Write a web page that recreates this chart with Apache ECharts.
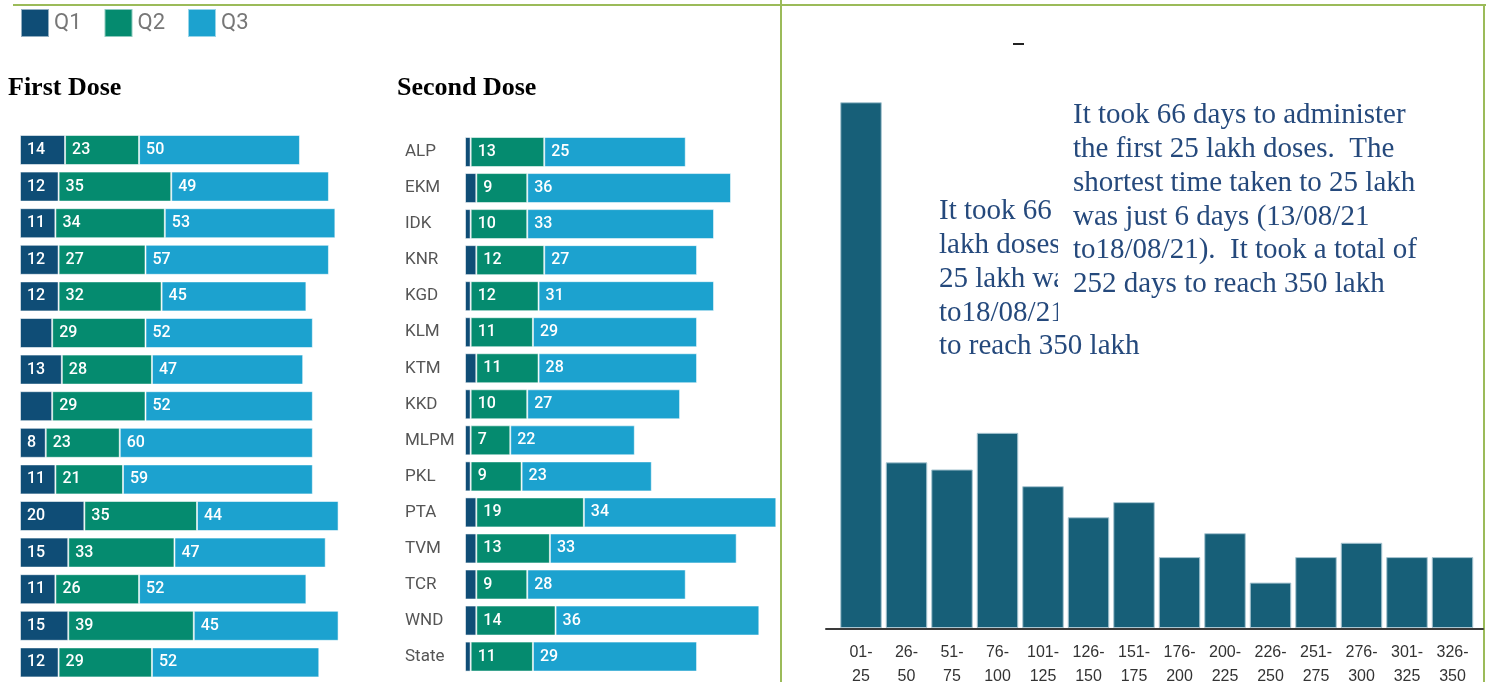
<!DOCTYPE html>
<html>
<head>
<meta charset="utf-8">
<title>Vaccination doses</title>
<script src="https://cdn.jsdelivr.net/npm/echarts@6/dist/echarts.min.js"></script>
<style>
  html, body { margin: 0; padding: 0; background: #fff; }
  #chart { width: 1486px; height: 682px; }
</style>
</head>
<body>
<div id="chart"></div>
<script>
// district order (top to bottom)
const districts = ["ALP", "EKM", "IDK", "KNR", "KGD", "KLM", "KTM", "KKD", "MLPM", "PKL", "PTA", "TVM", "TCR", "WND", "State"];

// First dose, % per quarter
const firstQ1 = [14, 12, 11, 12, 12, 10, 13, 10, 8, 11, 20, 15, 11, 15, 12];
const firstQ2 = [23, 35, 34, 27, 32, 29, 28, 29, 23, 21, 35, 33, 26, 39, 29];
const firstQ3 = [50, 49, 53, 57, 45, 52, 47, 52, 60, 59, 44, 47, 52, 45, 52];
const firstQ1Hidden = [5, 7]; // rows where the Q1 number is not printed

// Second dose, % per quarter
const secondQ1 = [1, 2, 1, 2, 1, 1, 2, 1, 1, 1, 2, 2, 2, 2, 1];
const secondQ2 = [13, 9, 10, 12, 12, 11, 11, 10, 7, 9, 19, 13, 9, 14, 11];
const secondQ3 = [25, 36, 33, 27, 31, 29, 28, 27, 22, 23, 34, 33, 28, 36, 29];

// days taken for each 25 lakh doses
const lakhRanges = ["01-\n25", "26-\n50", "51-\n75", "76-\n100", "101-\n125", "126-\n150", "151-\n175",
  "176-\n200", "200-\n225", "226-\n250", "251-\n275", "276-\n300", "301-\n325", "326-\n350"];
const daysTaken = [66, 20.8, 19.9, 24.5, 17.8, 13.9, 15.8, 8.9, 11.9, 5.7, 8.9, 10.7, 8.9, 8.9];

const frontNote = "It took 66 days to administer\nthe first 25 lakh doses.  The\nshortest time taken to 25 lakh\nwas just 6 days (13/08/21\nto18/08/21).  It took a total of\n252 days to reach 350 lakh";
const backNote = "It took 66 days to administer the first 25\nlakh doses.  The shortest time taken to\n25 lakh was just 6 days (13/08/21\nto18/08/21).  It took a total of 252 days\nto reach 350 lakh";

const colors = { q1: "#0f4d76", q2: "#058b6f", q3: "#1ca2cf" };
const noteColor = "#25497c";
const frame = "#9bbb59";

const chart = echarts.init(document.getElementById("chart"));

function stackSeries(name, data, color, gridIdx, stack, labelFmt) {
  return {
    name: name,
    type: "bar",
    stack: stack,
    xAxisIndex: gridIdx,
    yAxisIndex: gridIdx,
    barWidth: 30,
    data: data,
    itemStyle: { color: color, borderColor: "rgba(255,255,255,0.55)", borderWidth: 1 },
    label: {
      show: labelFmt !== false,
      position: "insideLeft",
      distance: 7,
      color: "#fff",
      fontFamily: "Roboto",
      fontWeight: 500,
      fontSize: 16,
      formatter: labelFmt || "{c}",
    },
    emphasis: { disabled: true },
  };
}

const option = {
  animation: false,
  textStyle: { fontFamily: "Roboto" },
  legend: {
    data: ["Q1", "Q2", "Q3"],
    left: 20,
    top: 8,
    padding: 0,
    icon: "rect",
    itemWidth: 28,
    itemHeight: 28,
    itemGap: 22,
    textStyle: { fontSize: 22, color: "#777", fontFamily: "Roboto" },
  },
  title: [
    {
      text: "First Dose", left: 8, top: 75, padding: 0,
      textStyle: { fontFamily: "Liberation Serif", fontWeight: "bold", fontSize: 26, color: "#000" },
    },
    {
      text: "Second Dose", left: 397, top: 75, padding: 0,
      textStyle: { fontFamily: "Liberation Serif", fontWeight: "bold", fontSize: 26, color: "#000" },
    },
  ],
  grid: [
    { left: 20, top: 131.7, width: 321.8, height: 549, outerBoundsMode: "none" },
    { left: 465, top: 134, width: 339.6, height: 540.6, outerBoundsMode: "none" },
    { left: 838.25, top: 70.4, width: 637, bottom: 54, outerBoundsMode: "none" },
    { left: 826, right: 3, top: 629, height: 0, outerBoundsMode: "none" },
  ],
  xAxis: [
    { gridIndex: 0, type: "value", min: 0, max: 100, show: false },
    { gridIndex: 1, type: "value", min: 0, max: 60, show: false },
    {
      gridIndex: 2,
      type: "category",
      data: lakhRanges,
      axisLine: { show: false },
      axisTick: { show: false },
      axisLabel: {
        interval: 0,
        margin: 13,
        fontFamily: "Liberation Sans",
        fontSize: 16,
        lineHeight: 24,
        color: "#333",
      },
    },
    {
      gridIndex: 3,
      type: "value",
      min: 0,
      max: 1,
      axisLine: { show: true, onZero: false, lineStyle: { color: "#3a3a3a", width: 2 } },
      axisTick: { show: false },
      axisLabel: { show: false },
      splitLine: { show: false },
    },
  ],
  yAxis: [
    {
      gridIndex: 0, type: "category", data: districts, inverse: true,
      axisLine: { show: false }, axisTick: { show: false }, axisLabel: { show: false },
    },
    {
      gridIndex: 1, type: "category", data: districts, inverse: true,
      axisLine: { show: false }, axisTick: { show: false },
      axisLabel: { align: "left", margin: 60, fontSize: 17, color: "#555", fontFamily: "Roboto" },
    },
    { gridIndex: 2, type: "value", min: 0, max: 70, show: false },
    { gridIndex: 3, type: "value", min: 0, max: 1, show: false },
  ],
  series: [
    stackSeries("Q1", firstQ1, colors.q1, 0, "first",
      (p) => (firstQ1Hidden.includes(p.dataIndex) ? "" : String(p.value))),
    stackSeries("Q2", firstQ2, colors.q2, 0, "first"),
    stackSeries("Q3", firstQ3, colors.q3, 0, "first"),
    stackSeries("Q1", secondQ1, colors.q1, 1, "second", false),
    stackSeries("Q2", secondQ2, colors.q2, 1, "second"),
    stackSeries("Q3", secondQ3, colors.q3, 1, "second"),
    {
      name: "Days",
      type: "bar",
      xAxisIndex: 2,
      yAxisIndex: 2,
      barWidth: 41.5,
      data: daysTaken,
      itemStyle: { color: "#175f78", borderColor: "#a9c6d2", borderWidth: 1 },
      emphasis: { disabled: true },
    },
  ],
  graphic: [
    { type: "line", shape: { x1: 13, y1: 5, x2: 1486, y2: 5 }, style: { stroke: frame, lineWidth: 2 } },
    { type: "line", shape: { x1: 781, y1: 0, x2: 781, y2: 682 }, style: { stroke: frame, lineWidth: 2 } },
    { type: "line", shape: { x1: 1484, y1: 5, x2: 1484, y2: 682 }, style: { stroke: frame, lineWidth: 2 } },
    { type: "rect", shape: { x: 1013, y: 43, width: 11, height: 2 }, style: { fill: "#222" } },
    {
      type: "text", x: 939, y: 195, z: 10,
      style: { text: backNote, font: '29px "Liberation Serif"', fill: noteColor, lineHeight: 33.7, verticalAlign: "top" },
    },
    { type: "rect", z: 11, shape: { x: 1058, y: 95, width: 395, height: 233 }, style: { fill: "#fff" } },
    {
      type: "text", x: 1073, y: 99, z: 12,
      style: { text: frontNote, font: '29px "Liberation Serif"', fill: noteColor, lineHeight: 33.7, verticalAlign: "top" },
    },
  ],
};

chart.setOption(option);
</script>
</body>
</html>
